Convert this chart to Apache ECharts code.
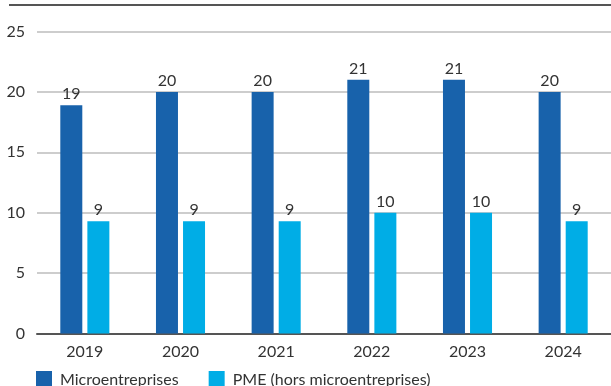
<!DOCTYPE html>
<html>
<head>
<meta charset="utf-8">
<script src="https://cdn.jsdelivr.net/npm/echarts@6/dist/echarts.min.js"></script>
<style>
  html, body { margin: 0; padding: 0; background: #fff; }
  #chart { width: 611px; height: 386px; }
</style>
</head>
<body>
<div id="chart"></div>
<script>
// Years on the category axis
const years = ['2019', '2020', '2021', '2022', '2023', '2024'];
// Microentreprises
const micro = [18.9, 20.0, 20.0, 21.0, 21.0, 20.0];
// PME (hors microentreprises)
const pme = [9.3, 9.3, 9.3, 10.0, 10.0, 9.3];
// Value axis ticks
const yTicks = [0, 5, 10, 15, 20, 25];

const FONT = 'Lato, "Open Sans", sans-serif';
const TEXT = '#333333';
const FS = 16;

const chart = echarts.init(document.getElementById('chart'), null, { renderer: 'canvas' });

const labelStyle = {
  show: true,
  position: 'top',
  distance: 3,
  color: TEXT,
  fontFamily: FONT,
  fontSize: FS,
  formatter: p => String(Math.round(p.value))
};

chart.setOption({
  animation: false,
  textStyle: { fontFamily: FONT },
  grid: { left: 37, right: 0, top: 31.5, bottom: 52.5, containLabel: false },
  legend: {
    left: 36,
    top: 371,
    padding: 0,
    itemWidth: 16,
    itemHeight: 18,
    itemGap: 30,
    icon: 'rect',
    textStyle: { color: TEXT, fontFamily: FONT, fontSize: FS, padding: [0, 0, 0, 3] },
    data: ['Microentreprises', 'PME (hors microentreprises)']
  },
  xAxis: {
    type: 'category',
    data: years,
    axisLine: { lineStyle: { color: '#555555', width: 2 } },
    axisTick: { show: false },
    axisLabel: { color: TEXT, fontFamily: FONT, fontSize: FS, margin: 10 }
  },
  yAxis: {
    type: 'value',
    min: yTicks[0],
    max: yTicks[yTicks.length - 1],
    interval: 5,
    axisLine: { show: false },
    axisTick: { show: false },
    axisLabel: { color: TEXT, fontFamily: FONT, fontSize: FS, margin: 12 },
    splitLine: { lineStyle: { color: '#bdbdbd', width: 1.5 } }
  },
  series: [
    {
      name: 'Microentreprises',
      type: 'bar',
      data: micro,
      barWidth: 22,
      barGap: '23%',
      itemStyle: { color: '#1862ab' },
      label: labelStyle
    },
    {
      name: 'PME (hors microentreprises)',
      type: 'bar',
      data: pme,
      barWidth: 22,
      itemStyle: { color: '#00ade6' },
      label: labelStyle
    }
  ],
  graphic: [
    {
      type: 'line',
      shape: { x1: 9, y1: 5, x2: 611, y2: 5 },
      style: { stroke: '#555555', lineWidth: 2 }
    }
  ]
});
</script>
</body>
</html>
